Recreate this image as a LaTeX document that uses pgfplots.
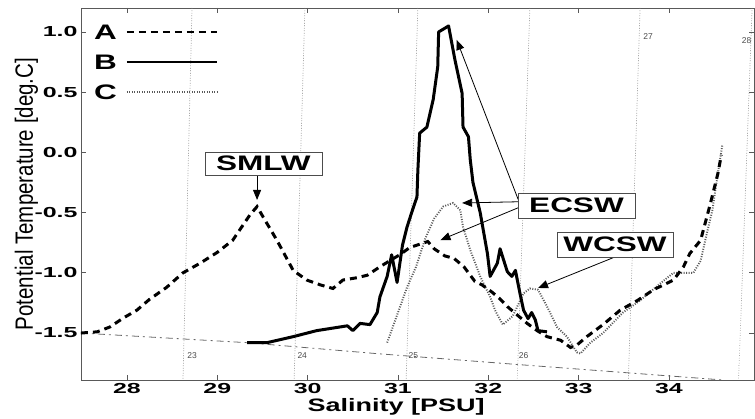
\documentclass[border=0pt]{standalone}
\usepackage{fontspec}
\setmainfont{Liberation Sans}
\newfontfamily\bfs{Liberation Sans}[FakeStretch=1.5]
\newfontfamily\tkf{Liberation Sans}[FakeStretch=1.72]
\newfontfamily\ylf{Liberation Sans}[FakeStretch=0.82]
\usepackage{pgfplots}
\pgfplotsset{compat=1.18}
\usetikzlibrary{arrows.meta}
\begin{document}
\begin{tikzpicture}
\begin{axis}[
 at={(0,0)}, anchor=south west,
 scale only axis, width=673bp, height=372bp,
 xmin=27.491, xmax=34.941, ymin=-1.890, ymax=1.199,
 xtick={28,29,30,31,32,33,34}, xticklabels={28,29,30,31,32,33,34},
 ytick={-1.5,-1,-0.5,0,0.5,1}, yticklabels={-1.5,-1.0,-0.5,0.0,0.5,1.0},
 tick align=inside, major tick length=5bp,
 axis line style={black!65, line width=0.9bp},
 every tick/.style={black!65, line width=0.8bp},
 ticklabel style={font=\tkf\bfseries\fontsize{14.5bp}{16bp}\selectfont, text=black},
 clip=false,
]
% density contours
\addplot[black!50, line width=0.7bp, dash pattern=on 0.7bp off 1.8bp] coordinates {(28.72,1.199) (28.62,-1.89)};
\addplot[black!50, line width=0.7bp, dash pattern=on 0.7bp off 1.8bp] coordinates {(29.97,1.199) (29.85,-1.89)};
\addplot[black!50, line width=0.7bp, dash pattern=on 0.7bp off 1.8bp] coordinates {(31.22,1.199) (31.09,-1.89)};
\addplot[black!50, line width=0.7bp, dash pattern=on 0.7bp off 1.8bp] coordinates {(32.46,1.199) (32.32,-1.89)};
\addplot[black!50, line width=0.7bp, dash pattern=on 0.7bp off 1.8bp] coordinates {(33.68,1.199) (33.55,-1.89)};
\addplot[black!50, line width=0.7bp, dash pattern=on 0.7bp off 1.8bp] coordinates {(34.92,1.199) (34.77,-1.89)};
% freezing line
\addplot[black!60, line width=0.8bp, dash pattern=on 7bp off 4bp on 2bp off 4bp] coordinates {
(27.49,-1.50) (29.33,-1.58) (30.75,-1.67) (32.30,-1.76) (34.60,-1.89)};
% C
\addplot[black!65, line width=1.9bp, dash pattern=on 1bp off 1.5bp] coordinates {
(30.88,-1.58) (31.00,-1.33) (31.10,-1.12) (31.20,-0.95) (31.30,-0.72) (31.40,-0.55)
(31.50,-0.45) (31.61,-0.42) (31.69,-0.48) (31.72,-0.62) (31.80,-0.81) (31.91,-1.03)
(32.02,-1.20) (32.08,-1.32) (32.16,-1.43) (32.27,-1.36) (32.39,-1.17) (32.46,-1.13)
(32.55,-1.14) (32.65,-1.28) (32.76,-1.45) (32.87,-1.53) (32.98,-1.66) (33.02,-1.67)
(33.13,-1.58) (33.27,-1.50) (33.49,-1.33) (33.68,-1.23) (33.90,-1.09) (34.05,-1.00)
(34.27,-1.00) (34.35,-0.90) (34.42,-0.67) (34.48,-0.48) (34.53,-0.23) (34.59,0.06)};
% A
\addplot[black, line width=3bp, dash pattern=on 7bp off 5bp] coordinates {
(27.49,-1.50) (27.67,-1.49) (27.81,-1.45) (27.96,-1.375) (28.11,-1.31) (28.25,-1.22)
(28.44,-1.12) (28.62,-1.00) (28.81,-0.92) (29.00,-0.83) (29.17,-0.73) (29.36,-0.52)
(29.44,-0.45) (29.51,-0.54) (29.66,-0.73) (29.84,-0.98) (29.99,-1.06) (30.14,-1.10)
(30.28,-1.13) (30.39,-1.06) (30.55,-1.04) (30.66,-1.02) (30.80,-0.95) (30.93,-0.89)
(31.02,-0.85) (31.13,-0.79) (31.33,-0.74) (31.40,-0.80) (31.52,-0.86) (31.62,-0.88)
(31.73,-0.95) (31.85,-1.07) (31.93,-1.10) (32.04,-1.16) (32.12,-1.21) (32.21,-1.28)
(32.32,-1.35) (32.43,-1.42) (32.54,-1.48) (32.65,-1.53) (32.80,-1.56) (32.91,-1.62)
(32.98,-1.60) (33.09,-1.53) (33.27,-1.43) (33.46,-1.31) (33.65,-1.23) (33.83,-1.14)
(34.05,-1.06) (34.16,-0.95) (34.23,-0.84) (34.35,-0.73) (34.46,-0.42) (34.54,-0.18)
(34.58,-0.02)};
% B
\addplot[black, line width=3bp, line join=round] coordinates {
(29.33,-1.58) (29.55,-1.58) (29.84,-1.53) (30.10,-1.48) (30.44,-1.44) (30.50,-1.48)
(30.58,-1.42) (30.69,-1.43) (30.77,-1.33) (30.80,-1.20) (30.88,-1.03) (30.93,-0.85)
(30.99,-1.08) (31.05,-0.77) (31.10,-0.62) (31.16,-0.48) (31.21,-0.37) (31.22,-0.15)
(31.24,0.16) (31.32,0.21) (31.39,0.44) (31.44,0.71) (31.45,1.00) (31.56,1.05)
(31.63,0.77) (31.71,0.49) (31.72,0.21) (31.78,0.13) (31.80,-0.06) (31.83,-0.25)
(31.91,-0.50) (31.99,-0.84) (32.02,-1.03) (32.10,-0.92) (32.13,-0.80) (32.21,-0.99)
(32.26,-1.03) (32.30,-0.98) (32.35,-1.17) (32.39,-1.31) (32.44,-1.38) (32.48,-1.33)
(32.52,-1.39) (32.55,-1.48) (32.65,-1.49)};
% legend lines
\addplot[black, line width=2.6bp, dash pattern=on 7bp off 5bp] coordinates {(28.0,1.0) (29.0,1.0)};
\addplot[black, line width=2.6bp] coordinates {(28.0,0.751) (29.0,0.751)};
\addplot[black!65, line width=1.9bp, dash pattern=on 1bp off 1.5bp] coordinates {(28.0,0.502) (29.0,0.502)};
\node[font=\bfs\bfseries\fontsize{21bp}{21bp}\selectfont, anchor=east, inner sep=0] at (axis cs:27.89,1.0) {A};
\node[font=\bfs\bfseries\fontsize{21bp}{21bp}\selectfont, anchor=east, inner sep=0] at (axis cs:27.89,0.751) {B};
\node[font=\bfs\bfseries\fontsize{21bp}{21bp}\selectfont, anchor=east, inner sep=0] at (axis cs:27.89,0.502) {C};
% density labels
\node[font=\fontsize{8.5bp}{8.5bp}\selectfont, text=black!70] at (axis cs:28.72,-1.69) {23};
\node[font=\fontsize{8.5bp}{8.5bp}\selectfont, text=black!70] at (axis cs:29.94,-1.69) {24};
\node[font=\fontsize{8.5bp}{8.5bp}\selectfont, text=black!70] at (axis cs:31.17,-1.69) {25};
\node[font=\fontsize{8.5bp}{8.5bp}\selectfont, text=black!70] at (axis cs:32.39,-1.69) {26};
\node[font=\fontsize{8.5bp}{8.5bp}\selectfont, text=black!70] at (axis cs:33.77,0.96) {27};
\node[font=\fontsize{8.5bp}{8.5bp}\selectfont, text=black!70] at (axis cs:34.86,0.93) {28};
% annotation arrows
\draw[black, line width=0.8bp, -{Triangle[length=10bp,width=8bp]}] (axis cs:29.44,-0.19) -- (axis cs:29.44,-0.395);
\draw[black, line width=0.8bp, -{Triangle[length=10bp,width=8bp]}] (axis cs:32.33,-0.39) -- (axis cs:31.65,0.934);
\draw[black, line width=0.8bp, -{Triangle[length=10bp,width=8bp]}] (axis cs:32.33,-0.41) -- (axis cs:31.71,-0.42);
\draw[black, line width=0.8bp, -{Triangle[length=10bp,width=8bp]}] (axis cs:32.33,-0.46) -- (axis cs:31.47,-0.728);
\draw[black, line width=0.8bp, -{Triangle[length=10bp,width=8bp]}] (axis cs:33.40,-0.869) -- (axis cs:32.55,-1.126);
% boxes
\node[draw=black!70, line width=0.9bp, fill=white, inner sep=0, minimum width=117bp, minimum height=23bp, font=\bfs\bfseries\fontsize{21bp}{21bp}\selectfont] at (axis cs:29.511,-0.092) {SMLW};
\node[draw=black!70, line width=0.9bp, fill=white, inner sep=0, minimum width=117bp, minimum height=25bp, font=\bfs\bfseries\fontsize{21bp}{21bp}\selectfont] at (axis cs:32.976,-0.441) {ECSW};
\node[draw=black!70, line width=0.9bp, fill=white, inner sep=0, minimum width=116bp, minimum height=25bp, font=\bfs\bfseries\fontsize{21bp}{21bp}\selectfont] at (axis cs:33.402,-0.765) {WCSW};
% axis labels
\node[font=\bfs\bfseries\fontsize{18bp}{18bp}\selectfont, anchor=base] at (axis cs:30.98,-1.89) [yshift=-31bp] {Salinity [PSU]};
\node[xshift=-48bp, rotate=90, anchor=base, font=\ylf\fontsize{25bp}{25bp}\selectfont] at (rel axis cs:0,0.5) {Potential Temperature [deg.C]};
\end{axis}
\pgfresetboundingbox
\path[use as bounding box] (-81bp,-39bp) rectangle (674bp,380bp);
\end{tikzpicture}
\end{document}
